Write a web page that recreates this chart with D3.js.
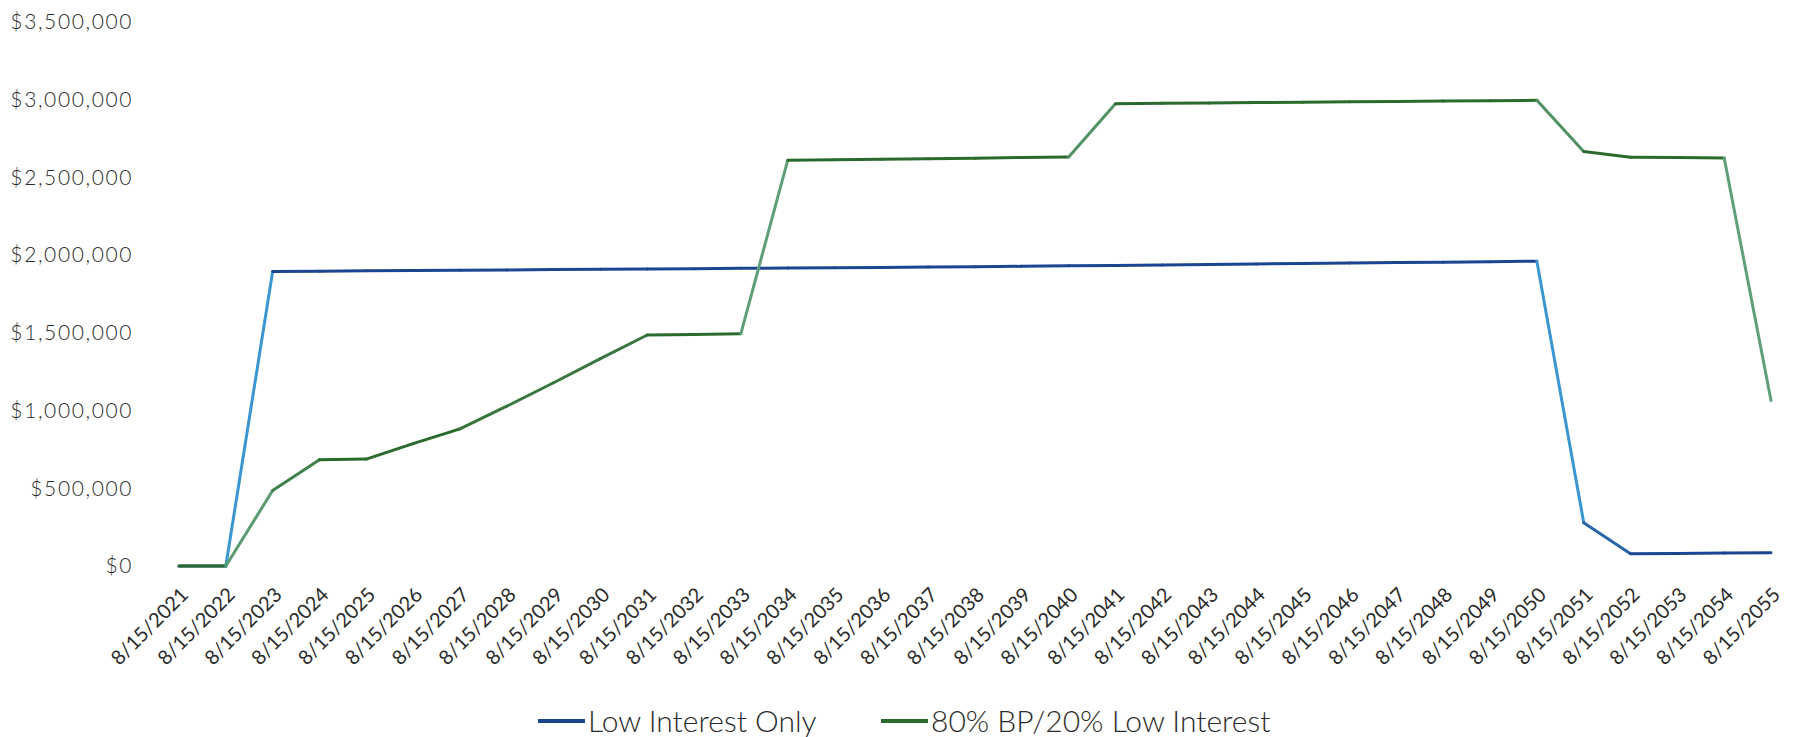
<!DOCTYPE html>
<html>
<head>
<meta charset="utf-8">
<script src="https://cdnjs.cloudflare.com/ajax/libs/d3/7.8.5/d3.min.js"></script>
<style>
  body { margin: 0; background: #fff; }
  svg text { font-family: Lato, "Open Sans", sans-serif; fill: #2b2b2b; }
</style>
</head>
<body>
<div id="corpo"></div>
<script>
var width = 1794, height = 737;

// categorias (datas)
var dates = ["8/15/2021","8/15/2022","8/15/2023","8/15/2024","8/15/2025","8/15/2026","8/15/2027",
  "8/15/2028","8/15/2029","8/15/2030","8/15/2031","8/15/2032","8/15/2033","8/15/2034","8/15/2035",
  "8/15/2036","8/15/2037","8/15/2038","8/15/2039","8/15/2040","8/15/2041","8/15/2042","8/15/2043",
  "8/15/2044","8/15/2045","8/15/2046","8/15/2047","8/15/2048","8/15/2049","8/15/2050","8/15/2051",
  "8/15/2052","8/15/2053","8/15/2054","8/15/2055"];

// Low Interest Only
var lowInterest = [0, 0, 1895000, 1897000, 1899000, 1901000, 1903000, 1905000, 1907000, 1909000,
  1911000, 1913000, 1915000, 1917000, 1919000, 1921000, 1923000, 1925000, 1928000, 1931000,
  1934000, 1937000, 1940000, 1943000, 1946000, 1949000, 1952000, 1955000, 1958000, 1961000,
  279000, 79000, 81000, 83000, 86000];

// 80% BP/20% Low Interest
var bpMix = [0, 0, 486000, 684000, 688000, 787000, 882000, 1028000, 1179000, 1334000,
  1486000, 1490000, 1495000, 2610000, 2613000, 2617000, 2620000, 2624000, 2628000, 2632000,
  2974000, 2977000, 2979000, 2982000, 2984000, 2987000, 2989000, 2991000, 2994000, 2996000,
  2667000, 2630000, 2628000, 2625000, 1065000];

var yTicks = [0, 500000, 1000000, 1500000, 2000000, 2500000, 3000000, 3500000];

var seriesNames = ["Low Interest Only", "80% BP/20% Low Interest"];
// [cor horizontal, cor inclinada] - o scan clareia os trechos inclinados
var seriesColors = [["#1b4591", "#3a96d0"], ["#2a6a2c", "#5f9f78"]];

var svg = d3.select("#corpo").append("svg")
  .attr("width", width)
  .attr("height", height);

var x = d3.scalePoint()
  .domain(dates)
  .range([179, 1771]);

var y = d3.scaleLinear()
  .domain([0, 3500000])
  .range([566, 22]);

var fmt = d3.format("$,.0f");

/* eixo y */
var yAxis = d3.axisLeft(y)
  .tickValues(yTicks)
  .tickSize(0)
  .tickPadding(0)
  .tickFormat(function(d){ return fmt(d); });

var gy = svg.append("g")
  .attr("transform", "translate(133,0)")
  .call(yAxis);
gy.select(".domain").remove();
gy.selectAll("text")
  .attr("font-size", 21)
  .attr("font-weight", 300)
  .attr("letter-spacing", 1.6);

/* eixo x */
var xAxis = d3.axisBottom(x).tickSize(0).tickPadding(0);
var gx = svg.append("g")
  .attr("transform", "translate(0,566)")
  .call(xAxis);
gx.select(".domain").remove();
gx.selectAll("text")
  .attr("font-size", 20)
  .attr("text-anchor", "end")
  .attr("dy", 0)
  .attr("transform", "translate(10,30) rotate(-45)");

/* linhas - desenhadas por trecho */
var blend = function(c, d) {
  return function(t) { return d3.interpolateRgb(c, d)(t); };
};

[lowInterest, bpMix].forEach(function(vals, s) {
  var segs = [];
  for (var i = 0; i < vals.length - 1; i++) {
    segs.push({ a: i, b: i + 1 });
  }
  var col = blend(seriesColors[s][0], seriesColors[s][1]);
  svg.append("g").selectAll("line")
    .data(segs)
    .enter().append("line")
    .attr("x1", function(d){ return x(dates[d.a]); })
    .attr("y1", function(d){ return y(vals[d.a]); })
    .attr("x2", function(d){ return x(dates[d.b]); })
    .attr("y2", function(d){ return y(vals[d.b]); })
    .attr("stroke", function(d){
      var dx = x(dates[d.b]) - x(dates[d.a]);
      var dy = Math.abs(y(vals[d.b]) - y(vals[d.a]));
      var steep = dy / Math.sqrt(dx * dx + dy * dy);
      return col(Math.min(1, Math.max(0, (steep - 0.3) / 0.6)));
    })
    .attr("stroke-width", 3)
    .attr("stroke-linecap", "round");
});

/* legenda */
var legX = [538, 881];
var leg = svg.append("g");
seriesNames.forEach(function(name, i) {
  leg.append("line")
    .attr("x1", legX[i]).attr("x2", legX[i] + 47)
    .attr("y1", 721).attr("y2", 721)
    .attr("stroke", seriesColors[i][0])
    .attr("stroke-width", 4);
  leg.append("text")
    .attr("x", legX[i] + 50)
    .attr("y", 721)
    .attr("dy", "0.36em")
    .attr("font-size", 30)
    .attr("font-weight", 300)
    .text(name);
});
</script>
</body>
</html>
